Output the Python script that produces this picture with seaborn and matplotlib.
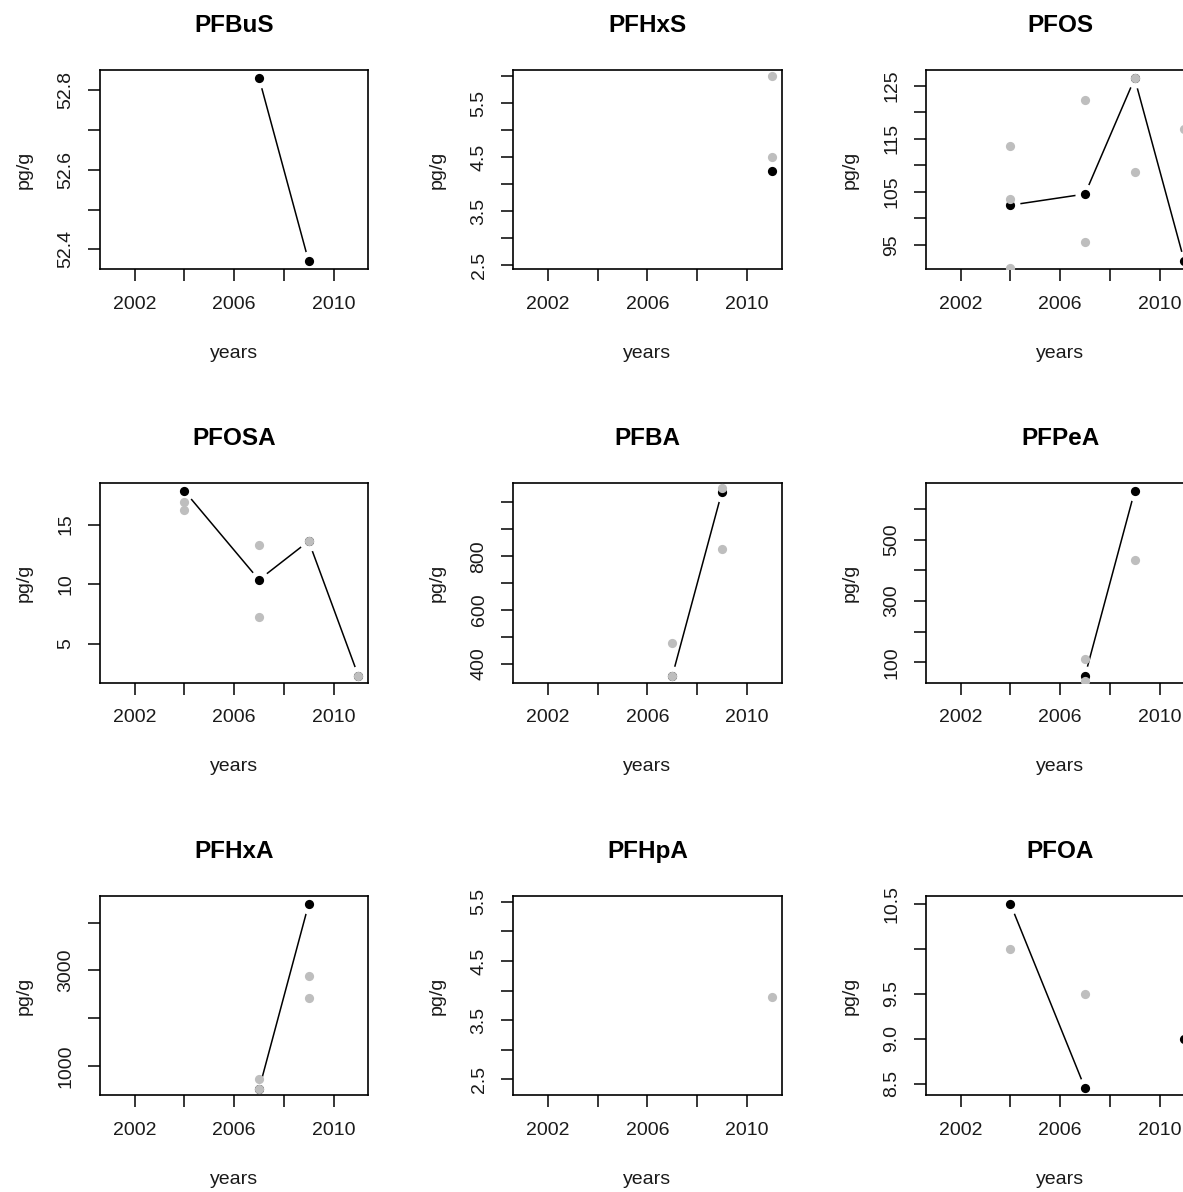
"""
Yearly PFAS concentrations (pg/g), one panel per compound, in the style of an R base plot.
Black = main series (points joined by a broken line), grey = individual samples.
Output: out.png
"""
import numpy as np
import pandas as pd
import matplotlib
matplotlib.use("Agg")
import matplotlib.pyplot as plt
import seaborn as sns

nan = np.nan

COMPOUNDS = ["PFBuS", "PFHxS", "PFOS", "PFOSA", "PFBA", "PFPeA", "PFHxA", "PFHpA", "PFOA"]
YEARS = [2004, 2007, 2009, 2011]

# main series (black), one value per year in YEARS
PFBUS = [nan, 52.83, 52.37, nan]
PFHXS = [nan, nan, nan, 4.25]
PFOS = [102.5, 104.6, 126.4, 91.9]
PFOSA = [17.82, 10.36, 13.61, 2.29]
PFBA = [nan, 355, 1040, nan]
PFPEA = [nan, 56, 659, nan]
PFHXA = [nan, 509, 4389, nan]
PFHPA = [nan, nan, nan, nan]
PFOA = [10.5, 8.45, nan, 9.0]

# single samples (grey)
PFBUS_YR, PFBUS_PTS = [], []
PFHXS_YR, PFHXS_PTS = [2011, 2011], [6.0, 4.5]
PFOS_YR = [2004, 2004, 2004, 2007, 2007, 2009, 2009, 2011]
PFOS_PTS = [113.6, 103.7, 90.7, 122.3, 95.6, 126.4, 108.8, 116.8]
PFOSA_YR = [2004, 2004, 2007, 2007, 2009, 2011]
PFOSA_PTS = [16.86, 16.21, 13.3, 7.23, 13.61, 2.29]
PFBA_YR, PFBA_PTS = [2007, 2007, 2009, 2009], [478, 355, 1053, 827]
PFPEA_YR, PFPEA_PTS = [2007, 2007, 2009], [111, 40, 435]
PFHXA_YR, PFHXA_PTS = [2007, 2007, 2009, 2009], [720, 509, 2880, 2425]
PFHPA_YR, PFHPA_PTS = [2011], [3.9]
PFOA_YR, PFOA_PTS = [2004, 2007], [10.0, 9.5]

# y axis ranges and ticks ("" = tick without label)
YLIMS = [(52.35, 52.85), (2.42, 6.12), (90.4, 128.0), (1.72, 18.47), (330, 1071),
         (34, 684), (383, 4558), (2.23, 5.6), (8.37, 10.59)]
YTICKS = [[52.4, 52.5, 52.6, 52.7, 52.8],
          [2.5, 3.0, 3.5, 4.0, 4.5, 5.0, 5.5, 6.0],
          [95, 100, 105, 110, 115, 120, 125],
          [5, 10, 15],
          [400, 500, 600, 700, 800, 900, 1000],
          [100, 200, 300, 400, 500, 600],
          [1000, 2000, 3000, 4000],
          [2.5, 3.0, 3.5, 4.0, 4.5, 5.0, 5.5],
          [8.5, 9.0, 9.5, 10.0, 10.5]]
YLABELS = [["52.4", "", "52.6", "", "52.8"],
           ["2.5", "", "3.5", "", "4.5", "", "5.5", ""],
           ["95", "", "105", "", "115", "", "125"],
           ["5", "10", "15"],
           ["400", "", "600", "", "800", "", ""],
           ["100", "", "300", "", "500", ""],
           ["1000", "", "3000", ""],
           ["2.5", "", "3.5", "", "4.5", "", "5.5"],
           ["8.5", "9.0", "9.5", "", "10.5"]]
XTICKS = [2002, 2004, 2006, 2008, 2010]
XLABELS = ["2002", "", "2006", "", "2010"]
XLIM = (2000.6, 2011.4)

MAIN = [PFBUS, PFHXS, PFOS, PFOSA, PFBA, PFPEA, PFHXA, PFHPA, PFOA]
SAMPLE_YR = [PFBUS_YR, PFHXS_YR, PFOS_YR, PFOSA_YR, PFBA_YR, PFPEA_YR, PFHXA_YR, PFHPA_YR, PFOA_YR]
SAMPLE_PTS = [PFBUS_PTS, PFHXS_PTS, PFOS_PTS, PFOSA_PTS, PFBA_PTS, PFPEA_PTS, PFHXA_PTS, PFHPA_PTS, PFOA_PTS]

# layout in pixels
W, H = 1183, 1192
COL_X = [100, 513.3, 926]
ROW_Y = [70, 483.3, 896]
AX_W, AX_H = 268.3, 199.3

GREY = "#BEBEBE"
TXT = "#1a1a1a"

sns.set_style("ticks")
plt.rcParams["font.family"] = ["Liberation Sans", "DejaVu Sans"]


def main_frame(vals):
    df = pd.DataFrame({"year": YEARS, "val": vals})
    df["seg"] = np.cumsum(df["val"].isna())   # NaN breaks the line
    return df.dropna()


fig = plt.figure(figsize=(W / 100, H / 100), dpi=100)

for i, name in enumerate(COMPOUNDS):
    r, c = divmod(i, 3)
    ax = fig.add_axes([COL_X[c] / W, 1 - (ROW_Y[r] + AX_H) / H, AX_W / W, AX_H / H])

    df = main_frame(MAIN[i])
    if len(df):
        sns.lineplot(data=df, x="year", y="val", units="seg", estimator=None,
                     color="black", linewidth=1.1, ax=ax, zorder=2)
        # white discs make the R type="b" gaps around each point
        sns.scatterplot(data=df, x="year", y="val", color="white", s=210,
                        linewidth=0, ax=ax, zorder=2.2)
        sns.scatterplot(data=df, x="year", y="val", color="black", s=44,
                        linewidth=0, ax=ax, zorder=3)
    if SAMPLE_YR[i]:
        sns.scatterplot(x=SAMPLE_YR[i], y=SAMPLE_PTS[i], color=GREY, s=44,
                        linewidth=0, ax=ax, zorder=4)

    ax.set(xlim=XLIM, ylim=YLIMS[i])
    ax.set_xticks(XTICKS, XLABELS)
    ax.set_yticks(YTICKS[i], YLABELS[i])
    ax.tick_params(axis="both", length=8.5, width=1.1, color="black",
                   labelsize=14, labelcolor=TXT)
    ax.tick_params(axis="x", pad=10.5)
    ax.tick_params(axis="y", pad=10, labelrotation=90)
    for lab in ax.get_yticklabels():
        lab.set_va("center")
    for sp in ax.spines.values():
        sp.set_visible(True)
        sp.set_color("black")
        sp.set_linewidth(1.2)

    ax.set_xlabel("years", fontsize=14, color=TXT, va="center")
    ax.xaxis.set_label_coords(0.5, -84 / AX_H)
    ax.set_ylabel("pg/g", fontsize=14, color=TXT, va="center")
    ax.yaxis.set_label_coords(-76 / AX_W, 0.5)
    ax.set_title(name, fontsize=17.5, fontweight="bold", color="black",
                 va="center", y=1 + 36 / AX_H)

fig.savefig("out.png", dpi=100)
plt.close(fig)
